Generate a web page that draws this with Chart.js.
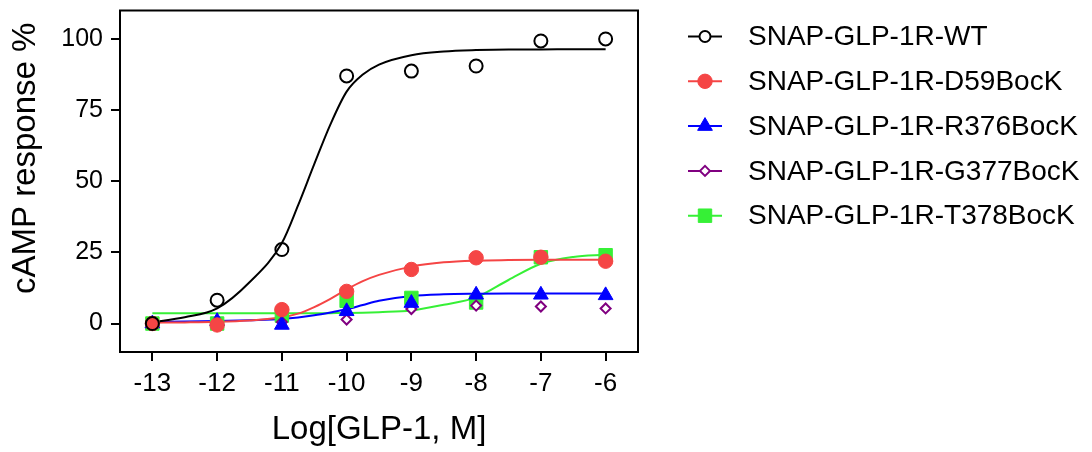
<!DOCTYPE html>
<html>
<head>
<meta charset="utf-8">
<script src="https://cdn.jsdelivr.net/npm/chart.js@4.4.0/dist/chart.umd.min.js"></script>
<style>
  html, body { margin: 0; padding: 0; background: #fff; }
  #wrap { width: 1092px; height: 452px; }
</style>
</head>
<body>
<div id="wrap"><canvas id="c" width="1092" height="452"></canvas></div>
<script>
// ── Data ──────────────────────────────────────────────────────────────────────
const logDose = [-13, -12, -11, -10, -9, -8, -7, -6]
const xTicks  = [-13, -12, -11, -10, -9, -8, -7, -6]
const yTicks  = [0, 25, 50, 75, 100]

const seriesNames = [
  'SNAP-GLP-1R-WT',
  'SNAP-GLP-1R-D59BocK',
  'SNAP-GLP-1R-R376BocK',
  'SNAP-GLP-1R-G377BocK',
  'SNAP-GLP-1R-T378BocK'
]

// measured responses (%)
const wtPts   = [0, 8.2, 26, 87, 88.7, 90.5, 99.3, 100]
const d59Pts  = [0, -0.5, 4.9, 11.3, 19.0, 23.1, 23.3, 21.9]
const r376Pts = [0, 0.8, -0.5, 4.3, 7.2, 10.1, 10.1, 9.9]
const g377Pts = [0, 0, 0.5, 1.4, 5.1, 6.3, 6.0, 5.3]
const t378Pts = [0, 0, 2.8, 8.0, 9.0, 7.4, 23.3, 24.0]

// fitted curves, read at these doses
const curveX    = [-13, -12.5, -12, -11.5, -11, -10.75, -10.5, -10.25, -10, -9.75, -9.5, -9, -8.5, -8, -7.5, -7, -6.5, -6]
const wtCurve   = [0.5, 2.2, 5.3, 14.5, 28.3, 41.5, 56, 70, 81.5, 87.5, 91, 94.3, 95.6, 96.1, 96.3, 96.3, 96.4, 96.4]
const d59Curve  = [0.3, 0.4, 0.6, 1.1, 2.2, 3.5, 5.8, 8.7, 12.0, 14.9, 17.1, 20.0, 21.5, 22.1, 22.3, 22.4, 22.4, 22.4]
const r376Curve = [0.6, 0.7, 0.9, 1.2, 1.6, 2.1, 2.9, 3.9, 5.0, 6.5, 8.0, 9.7, 10.3, 10.5, 10.6, 10.6, 10.6, 10.6]
const t378Curve = [3.6, 3.6, 3.6, 3.6, 3.6, 3.6, 3.6, 3.65, 3.7, 3.8, 4.0, 4.6, 6.6, 9.2, 15.3, 21.0, 23.4, 24.2]

// ── Styles ────────────────────────────────────────────────────────────────────
const FONT = '"Liberation Sans", Arial, Helvetica, sans-serif'
const seriesColors = ['#000000', '#f54545', '#0000ff', '#800080', '#36f036']
const markers = [
  { style: 'circle',   radius: 6.5, fill: 'rgba(0,0,0,0)', border: 2 },
  { style: 'circle',   radius: 7.2, fill: '#f54545',       border: 1 },
  { style: 'triangle', radius: 8.5, fill: '#0000ff',       border: 1 },
  { style: 'rectRot',  radius: 5,   fill: '#ffffff',       border: 2 },
  { style: 'rect',     radius: 9.5, fill: '#36f036',       border: 1 }
]
const pointSets = [wtPts, d59Pts, r376Pts, g377Pts, t378Pts]
const curveSets = [wtCurve, d59Curve, r376Curve, null, t378Curve]

const toXY = (xs, ys) => xs.map((x, i) => ({ x, y: ys[i] }))

const datasets = []
pointSets.forEach((pts, i) => {
  const m = markers[i]
  datasets.push({
    type: 'scatter',
    label: seriesNames[i],
    data: toXY(logDose, pts),
    showLine: false,
    pointStyle: m.style,
    pointRadius: m.radius,
    pointBackgroundColor: m.fill,
    pointBorderColor: seriesColors[i],
    pointBorderWidth: m.border
  })
})
curveSets.forEach((cv, i) => {
  if (!cv) return
  datasets.push({
    type: 'line',
    label: seriesNames[i] + ' fit',
    data: toXY(curveX, cv),
    borderColor: seriesColors[i],
    borderWidth: 2,
    pointRadius: 0,
    cubicInterpolationMode: 'monotone',
    fill: false
  })
})

// ── Plugins: frame + side legend ──────────────────────────────────────────────
const frame = {
  id: 'frame',
  afterDatasetsDraw(chart) {
    const { ctx, chartArea: a } = chart
    ctx.save()
    ctx.strokeStyle = '#000'
    ctx.lineWidth = 2
    ctx.strokeRect(a.left, a.top, a.right - a.left, a.bottom - a.top)
    ctx.restore()
  }
}

const sideLegend = {
  id: 'sideLegend',
  afterDraw(chart) {
    const { ctx, chartArea } = chart
    const x0 = chartArea.right + 50
    ctx.save()
    seriesNames.forEach((name, i) => {
      const y = 36.5 + i * 44.8
      const m = markers[i]
      ctx.strokeStyle = seriesColors[i]
      ctx.lineWidth = 2
      ctx.beginPath()
      ctx.moveTo(x0, y)
      ctx.lineTo(x0 + 34, y)
      ctx.stroke()
      ctx.fillStyle = i === 0 ? '#ffffff' : m.fill
      ctx.lineWidth = m.border
      Chart.helpers.drawPoint(ctx, {
        pointStyle: m.style,
        radius: i === 0 ? 5.5 : m.radius,
        rotation: 0,
        borderWidth: m.border
      }, x0 + 17, y)
      ctx.fillStyle = '#000'
      ctx.font = '28px ' + FONT
      ctx.textBaseline = 'middle'
      ctx.textAlign = 'left'
      ctx.fillText(name, x0 + 60, y + 1)
    })
    ctx.restore()
  }
}

// ── Chart ─────────────────────────────────────────────────────────────────────
Chart.defaults.font.family = FONT
Chart.defaults.color = '#000'

new Chart(document.getElementById('c'), {
  data: { datasets },
  options: {
    responsive: false,
    animation: false,
    layout: { padding: { top: 6, right: 454, left: 0, bottom: 0 } },
    plugins: { legend: { display: false }, tooltip: { enabled: false } },
    scales: {
      x: {
        type: 'linear',
        min: -13.5,
        max: -5.5,
        afterBuildTicks: s => { s.ticks = xTicks.map(v => ({ value: v })) },
        afterFit: s => { s.height = 100; s.paddingLeft = 0; s.paddingRight = 0 },
        ticks: { font: { size: 26 }, padding: 7, callback: v => String(v), maxRotation: 0 },
        grid: { drawOnChartArea: false, drawTicks: true, tickLength: 9, color: '#000', lineWidth: 2 },
        border: { display: true, color: '#000', width: 2 },
        title: { display: true, text: 'Log[GLP-1, M]', font: { size: 33 }, padding: { top: 0, bottom: 2 } }
      },
      y: {
        type: 'linear',
        min: -10,
        max: 110,
        afterBuildTicks: s => { s.ticks = yTicks.map(v => ({ value: v })) },
        afterFit: s => { s.width = 120; s.paddingTop = 0; s.paddingBottom = 0 },
        ticks: { font: { size: 25 }, padding: 8, callback: v => String(v) },
        grid: { drawOnChartArea: false, drawTicks: true, tickLength: 9, color: '#000', lineWidth: 2 },
        border: { display: true, color: '#000', width: 2 },
        title: { display: true, text: '     cAMP response %', font: { size: 33 }, padding: { top: 6, bottom: 0 } }
      }
    }
  },
  plugins: [frame, sideLegend]
})
</script>
</body>
</html>
